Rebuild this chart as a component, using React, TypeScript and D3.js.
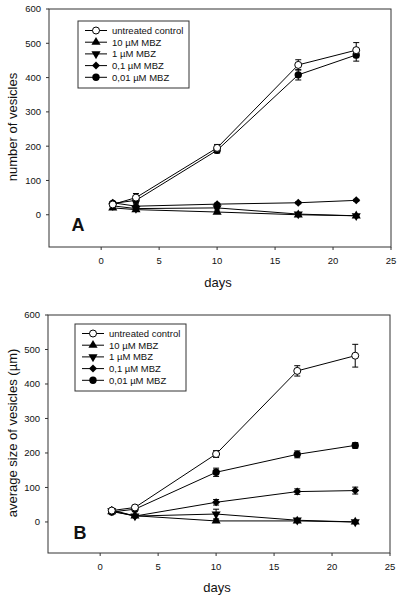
import React from "react";
import * as d3 from "d3";

const days = [1, 3, 10, 17, 22];
const seriesNames = ["untreated control", "10 µM MBZ", "1 µM MBZ", "0,1 µM MBZ", "0,01 µM MBZ"];
const symbolKinds = ["openCircle", "triangleUp", "triangleDown", "diamond", "circle"];

// Panel A: number of vesicles
const countControl = [30, 50, 195, 437, 480];
const count10 = [20, 15, 8, 0, -3];
const count1 = [26, 18, 20, 2, -3];
const count01 = [35, 25, 31, 35, 42];
const count001 = [33, 42, 188, 408, 466];
const countErrControl = [5, 12, 10, 15, 22];
const countErr10 = [3, 3, 3, 3, 3];
const countErr1 = [3, 3, 3, 3, 3];
const countErr01 = [3, 3, 3, 3, 3];
const countErr001 = [5, 10, 8, 15, 18];

// Panel B: average size of vesicles
const sizeControl = [33, 42, 197, 438, 482];
const size10 = [30, 18, 3, 3, 0];
const size1 = [32, 17, 23, 5, 0];
const size01 = [35, 17, 57, 88, 91];
const size001 = [29, 37, 144, 196, 222];
const sizeErrControl = [4, 6, 10, 15, 33];
const sizeErr10 = [3, 3, 3, 3, 3];
const sizeErr1 = [3, 3, 14, 3, 3];
const sizeErr01 = [3, 3, 8, 8, 10];
const sizeErr001 = [3, 4, 12, 10, 8];

const xTicks = [0, 5, 10, 15, 20, 25];
const yTicks = [0, 100, 200, 300, 400, 500, 600];

const FONT = "Liberation Sans, Arial, sans-serif";

type PanelProps = {
  top: number; bottom: number; left: number; right: number;
  yMin: number; yLabel: string; letter: string;
  values: number[][]; errors: number[][];
  legendX: number; legendY: number; letterX: number; letterY: number; daysY: number;
  yLabelX: number;
};

function Marker({ kind, x, y }: { kind: string; x: number; y: number }) {
  const r = 3.5;
  if (kind === "openCircle") return <circle cx={x} cy={y} r={r} fill="#fff" stroke="#000" strokeWidth={1} />;
  if (kind === "circle") return <circle cx={x} cy={y} r={r + 0.2} fill="#000" />;
  if (kind === "triangleUp") {
    const p = d3.symbol().type(d3.symbolTriangle).size(36)();
    return <path d={p || ""} transform={`translate(${x},${y})`} fill="#000" />;
  }
  if (kind === "triangleDown") {
    const p = d3.symbol().type(d3.symbolTriangle).size(36)();
    return <path d={p || ""} transform={`translate(${x},${y}) rotate(180)`} fill="#000" />;
  }
  const p = d3.symbol().type(d3.symbolSquare).size(32)();
  return <path d={p || ""} transform={`translate(${x},${y}) rotate(45)`} fill="#000" />;
}

function Panel(props: PanelProps) {
  const { top, bottom, left, right, yMin } = props;
  const x = d3.scaleLinear().domain([-4.5, 25]).range([left, right]);
  const y = d3.scaleLinear().domain([yMin, 600]).range([bottom, top]);
  const line = d3.line<number>().x((_, i) => x(days[i])).y((v) => y(v));
  const order = [1, 2, 3, 4, 0];
  const axisColor = "#333";
  return (
    <g fontFamily={FONT}>
      {order.map((s) => (
        <path key={"l" + s} d={line(props.values[s]) || ""} fill="none" stroke="#000" strokeWidth={1} />
      ))}
      {order.map((s) =>
        props.values[s].map((v, i) => {
          const e = props.errors[s][i];
          const cx = x(days[i]);
          return (
            <g key={`e${s}-${i}`} stroke="#000" strokeWidth={1}>
              <line x1={cx} x2={cx} y1={y(v - e)} y2={y(v + e)} />
              <line x1={cx - 3} x2={cx + 3} y1={y(v - e)} y2={y(v - e)} />
              <line x1={cx - 3} x2={cx + 3} y1={y(v + e)} y2={y(v + e)} />
            </g>
          );
        })
      )}
      {order.map((s) =>
        props.values[s].map((v, i) => <Marker key={`m${s}-${i}`} kind={symbolKinds[s]} x={x(days[i])} y={y(v)} />)
      )}
      <rect x={left} y={top} width={right - left} height={bottom - top} fill="none" stroke={axisColor} strokeWidth={1} />
      {yTicks.map((t) => (
        <g key={"yt" + t}>
          <line x1={left - 3} x2={left} y1={y(t)} y2={y(t)} stroke={axisColor} />
          <text x={left - 8} y={y(t)} dy="0.35em" textAnchor="end" fontSize={9.5} fill="#111">{t}</text>
        </g>
      ))}
      {xTicks.map((t) => (
        <g key={"xt" + t}>
          <line x1={x(t)} x2={x(t)} y1={bottom} y2={bottom + 3} stroke={axisColor} />
          <text x={x(t)} y={bottom + 17} textAnchor="middle" fontSize={9.5} fill="#111">{t}</text>
        </g>
      ))}
      <text x={x(10) + 1} y={props.daysY} textAnchor="middle" fontSize={13} fill="#111">days</text>
      <text
        transform={`translate(${props.yLabelX},${(top + bottom) / 2 - 1}) rotate(-90)`}
        textAnchor="middle" fontSize={13} fill="#111"
      >{props.yLabel}</text>
      <text x={props.letterX} y={props.letterY} fontSize={18} fontWeight="bold" textAnchor="middle" fill="#111">{props.letter}</text>
      <g transform={`translate(${props.legendX},${props.legendY})`}>
        <rect x={0} y={0} width={111} height={67} fill="#fff" stroke={axisColor} strokeWidth={1} />
        {seriesNames.map((n, i) => {
          const ly = 9.5 + i * 11.7;
          return (
            <g key={"lg" + i}>
              <line x1={7} x2={29} y1={ly} y2={ly} stroke="#000" />
              <Marker kind={symbolKinds[i]} x={18} y={ly} />
              <text x={34} y={ly} dy="0.35em" fontSize={9.5} fill="#111">{n}</text>
            </g>
          );
        })}
      </g>
    </g>
  );
}

export default function App() {
  return (
    <svg width={400} height={601} style={{ position: "absolute", left: 0, top: 0, background: "#fff" }}>
      <rect width={400} height={601} fill="#fff" />
      <Panel
        top={9} bottom={247} left={49} right={391} yMin={-94}
        yLabel="number of vesicles" letter="A"
        values={[countControl, count10, count1, count01, count001]}
        errors={[countErrControl, countErr10, countErr1, countErr01, countErr001]}
        legendX={78} legendY={21} letterX={78} letterY={231} daysY={287} yLabelX={17}
      />
      <Panel
        top={315} bottom={553} left={48} right={390} yMin={-90}
        yLabel="average size of vesicles (µm)" letter="B"
        values={[sizeControl, size10, size1, size01, size001]}
        errors={[sizeErrControl, sizeErr10, sizeErr1, sizeErr01, sizeErr001]}
        legendX={75} legendY={324} letterX={80} letterY={539} daysY={592} yLabelX={17}
      />
    </svg>
  );
}
